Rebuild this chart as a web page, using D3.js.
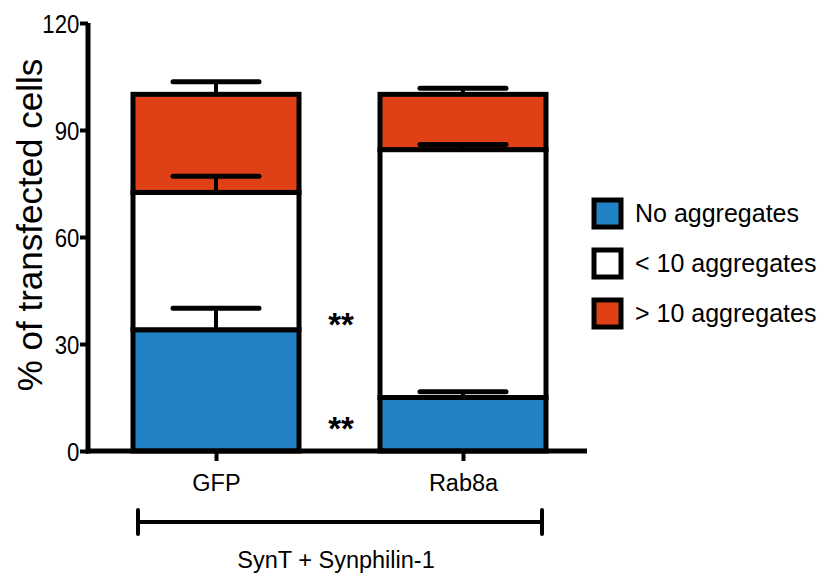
<!DOCTYPE html>
<html><head><meta charset="utf-8">
<script src="https://cdn.jsdelivr.net/npm/d3@7"></script>
<style>body{margin:0;background:#fff}svg{display:block}text{font-family:"Liberation Sans",Arial,sans-serif;fill:#000}</style>
</head><body><svg id="c" width="830" height="578"></svg>
<script>
const categories = ["GFP", "Rab8a"];
const seriesNames = ["No aggregates", "< 10 aggregates", "> 10 aggregates"];
const seriesColors = ["#2183c4", "#ffffff", "#e04015"];
const noAgg   = [34, 15];
const lt10Agg = [38.5, 69.5];
const gt10Agg = [27.5, 15.5];
const errNo   = [6, 1.6];
const errLt10 = [4.5, 1.4];
const errGt10 = [3.5, 1.7];
const yTicks = [0, 30, 60, 90, 120];
const groupLabel = "SynT + Synphilin-1";
const yTitle = "% of transfected cells";
const significance = ["**", "**"];

const svg = d3.select("#c");
const y = d3.scaleLinear().domain([0, 120]).range([451, 23]);
const x = d3.scalePoint().domain(categories).range([216, 463]);
const barW = 166, capW = 86, lw = 5;

const series = [noAgg, lt10Agg, gt10Agg];
const errs = [errNo, errLt10, errGt10];

// bars
categories.forEach((c, i) => {
  let base = 0;
  series.forEach((s, k) => {
    const top = base + s[i];
    svg.append("rect")
      .attr("x", x(c) - barW / 2).attr("width", barW)
      .attr("y", y(top)).attr("height", y(base) - y(top))
      .attr("fill", seriesColors[k]).attr("stroke", "#000")
      .attr("stroke-width", lw);
    base = top;
  });
});
// error bars
categories.forEach((c, i) => {
  let base = 0;
  series.forEach((s, k) => {
    const top = base + s[i];
    const e = top + errs[k][i];
    svg.append("line").attr("x1", x(c)).attr("x2", x(c))
      .attr("y1", y(top)).attr("y2", y(e))
      .attr("stroke", "#000").attr("stroke-width", 4);
    svg.append("line").attr("x1", x(c) - capW / 2).attr("x2", x(c) + capW / 2)
      .attr("y1", y(e)).attr("y2", y(e))
      .attr("stroke", "#000").attr("stroke-width", lw).attr("stroke-linecap", "round");
    base = top;
  });
});

// y axis
const ya = svg.append("g").attr("transform", "translate(88,0)")
  .call(d3.axisLeft(y).tickValues(yTicks).tickSize(8).tickPadding(3));
ya.attr("font-size", null).attr("font-family", null);
ya.select(".domain").attr("stroke-width", 5).attr("d", `M0,${y(120)}V${y(0) + 2.5}`);
ya.selectAll(".tick line").attr("stroke-width", 4);
ya.selectAll(".tick text").style("font-size", "25.5px")
  .attr("x", -10).attr("transform", "scale(0.87,1)").attr("dy", "0.36em");

// x axis
const xa = svg.append("g").attr("transform", `translate(0,${y(0)})`)
  .call(d3.axisBottom(x).tickSize(10).tickPadding(12));
xa.attr("font-size", null).attr("font-family", null);
xa.select(".domain").attr("stroke-width", 5).attr("d", "M86,0H587");
xa.selectAll(".tick line").attr("stroke-width", 4);
xa.selectAll(".tick text").style("font-size", "23.5px").attr("y", 23).attr("dy", "0.71em");

// y title
svg.append("text").attr("transform", "translate(42,225) rotate(-90)")
  .attr("text-anchor", "middle").style("font-size", "35px").text(yTitle);

// significance
svg.append("text").attr("x", 341).attr("y", 336).attr("text-anchor", "middle")
  .style("font-size", "33px").attr("font-weight", "bold").text(significance[0]);
svg.append("text").attr("x", 341).attr("y", 440).attr("text-anchor", "middle")
  .style("font-size", "33px").attr("font-weight", "bold").text(significance[1]);

// group bracket
const bx0 = 138, bx1 = 542, by = 522;
svg.append("path").attr("d", `M${bx0},${by}H${bx1}M${bx0},${by - 12}V${by + 12}M${bx1},${by - 12}V${by + 12}`)
  .attr("stroke", "#000").attr("stroke-width", 4).attr("fill", "none").attr("stroke-linecap", "round");
svg.append("text").attr("x", 336).attr("y", 568).attr("text-anchor", "middle")
  .style("font-size", "23.5px").text(groupLabel);

// legend
const lg = svg.append("g");
seriesNames.forEach((n, k) => {
  const cy = 213 + k * 50;
  lg.append("rect").attr("x", 594).attr("y", cy - 13).attr("width", 27).attr("height", 27)
    .attr("fill", seriesColors[k]).attr("stroke", "#000").attr("stroke-width", 5);
  lg.append("text").attr("x", 635).attr("y", cy).attr("dy", "0.36em")
    .style("font-size", "25px").text(n);
});
</script></body></html>
